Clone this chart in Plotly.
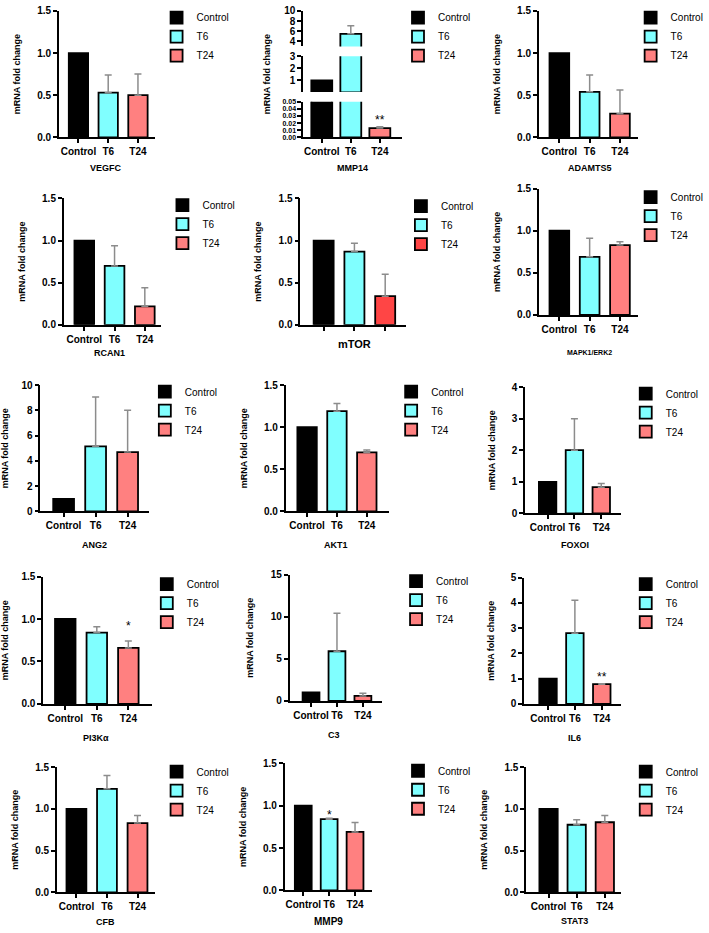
import plotly.graph_objects as go

# ---------------- data ----------------
genes = ["VEGFC", "MMP14", "ADAMTS5", "RCAN1", "mTOR", "MAPK1/ERK2",
         "ANG2", "AKT1", "FOXOI", "PI3Kα", "C3", "IL6", "CFB", "MMP9", "STAT3"]
groups = ["Control", "T6", "T24"]
control_vals = [1.0] * 15
t6_vals = [0.53, 5.5, 0.54, 0.70, 0.87, 0.69, 5.15, 1.19, 2.0, 0.84, 5.9, 2.8, 1.24, 0.84, 0.81]
t6_err = [0.21, 1.6, 0.20, 0.24, 0.10, 0.22, 3.9, 0.09, 1.0, 0.07, 4.5, 1.3, 0.16, 0.01, 0.06]
t24_vals = [0.50, 0.013, 0.28, 0.22, 0.34, 0.83, 4.7, 0.70, 0.83, 0.66, 0.6, 0.78, 0.83, 0.69, 0.84]
t24_err = [0.25, 0.002, 0.28, 0.22, 0.26, 0.04, 3.3, 0.03, 0.12, 0.08, 0.3, 0.02, 0.09, 0.11, 0.08]
y_max = [1.5, 10, 1.5, 1.5, 1.5, 1.5, 10, 1.5, 4, 1.5, 15, 5, 1.5, 1.5, 1.5]
y_dtick = [0.5, 2, 0.5, 0.5, 0.5, 0.5, 2, 0.5, 1, 0.5, 5, 1, 0.5, 0.5, 0.5]
y_fmt = [".1f", "d", ".1f", ".1f", ".1f", ".1f", "d", ".1f", "d", ".1f", "d", "d", ".1f", ".1f", ".1f"]
# significance marks: (gene index, group index, text)
signif = [(1, 2, "**"), (9, 2, "*"), (11, 2, "**"), (13, 1, "*")]
# MMP14 broken axis segments (ranges and tick values)
mmp14_segments = [([3, 10], [4, 6, 8, 10]), ([0.05, 3], [1, 2, 3]),
                  ([0, 0.05], [0, 0.01, 0.02, 0.03, 0.04, 0.05])]
Y_TITLE = "mRNA fold change"

# ---------------- layout (pixel geometry) ----------------
W, H = 709, 933
# x axis start, x axis end, y top, y bottom, x range, legend x, legend y, label x, label y, label size
panels = [
    (52, 150, 5, 133, (-0.66, 2.56), 152, -3, 100, 164, 9),
    (302, 403, 5, 133, (-0.64, 2.76), 399, -3, 352, 164, 9),
    (543, 645, 5, 133, (-0.68, 2.61), 637, -3, 595, 164, 9),
    (57, 157, 195, 323, (-0.68, 2.55), 158, 187, 104, 352, 9),
    (299, 407, 195, 323, (-0.76, 2.67), 402, 188, 355, 342, 11),
    (543, 645, 185, 313, (-0.68, 2.61), 637, 179, 595, 351, 7),
    (33, 144, 384, 512, (-0.73, 2.66), 140, 376, 88, 546, 9),
    (284, 390, 384, 512, (-0.72, 2.75), 392, 376, 336, 546, 9),
    (529, 627, 386, 514, (-0.84, 2.73), 632, 378, 580, 546, 9),
    (36, 147, 578, 707, (-0.70, 2.74), 142, 571, 90, 742, 9),
    (288, 383, 576, 704, (-0.83, 2.75), 397, 568, 334, 738, 9),
    (528, 627, 579, 707, (-0.89, 2.71), 632, 571, 580, 742, 9),
    (50, 150, 771, 898, (-0.64, 2.56), 152, 761, 100, 928, 9),
    (283, 372, 767, 896, (-0.72, 2.64), 399, 760, 328, 927, 10),
    (530, 627, 771, 898, (-0.80, 2.57), 632, 761, 580, 927, 9),
]
mmp14_seg_px = [(5, 41), (51, 87), (97, 133)]
mmp14_title_px = (265, 69)
star_shift = [-2, 6, -2, -6]  # px shift of each significance mark from the error cap

FONT = "Liberation Sans, Arial, sans-serif"
colors = {"Control": "#000000", "T6": "#80FFFF", "T24": "#FF8080"}
mtor_t24_color = "#FF4545"
ERR_COLOR = "#8c8c8c"


def X(px):
    return px / W


def Y(py):
    return 1 - py / H


fig = go.Figure()
layout = dict(width=W, height=H, margin=dict(l=0, r=0, t=0, b=0),
              paper_bgcolor="white", plot_bgcolor="white", barmode="overlay",
              font=dict(family=FONT, color="black"), annotations=[])

axis_common = dict(showgrid=False, zeroline=False, showline=True, linecolor="black",
                   linewidth=1.5, ticks="outside", ticklen=4, tickwidth=1.5,
                   tickcolor="black", fixedrange=True)
tick_font = dict(family=FONT, size=10, weight="bold")
title_font = dict(family=FONT, size=9, weight="bold")

vals_by_group = {"Control": control_vals, "T6": t6_vals, "T24": t24_vals}
err_by_group = {"Control": [0] * 15, "T6": t6_err, "T24": t24_err}


def add_bars(i, xref, yref, show_legend, legend_name, width=0.65, ymin=None):
    for j, g in enumerate(groups):
        v = vals_by_group[g][i]
        if ymin is not None and v <= ymin:
            continue
        c = colors[g]
        if genes[i] == "mTOR" and g == "T24":
            c = mtor_t24_color
        e = err_by_group[g][i]
        fig.add_trace(go.Bar(
            x=[j], y=[v], width=[width], name=g,
            marker=dict(color=c, line=dict(color="black", width=1.8)),
            error_y=dict(type="data", symmetric=False, array=[e], arrayminus=[0],
                         color=ERR_COLOR, thickness=1.5, width=3.5,
                         visible=bool(e > 0)),
            xaxis=xref, yaxis=yref, showlegend=show_legend, legend=legend_name,
            hoverinfo="skip"))


extra_axis = 16
for i, p in enumerate(panels):
    xs, xe, yt, yb, xr, lx, ly, gx, gy, gs = p
    n = i + 1
    xkey = "xaxis" if n == 1 else f"xaxis{n}"
    ykey = "yaxis" if n == 1 else f"yaxis{n}"
    xref = "x" if n == 1 else f"x{n}"
    yref = "y" if n == 1 else f"y{n}"
    legend_name = "legend" if n == 1 else f"legend{n}"
    ticktext = ["" for _ in groups] if genes[i] == "mTOR" else groups

    layout[xkey] = dict(axis_common, domain=[X(xs), X(xe)], range=list(xr),
                        anchor=yref, tickvals=[0, 1, 2], ticktext=ticktext,
                        tickangle=0, tickfont=tick_font)
    if genes[i] == "MMP14":
        # broken axis: three stacked y axes sharing one x axis (bottom = main)
        for s, ((rng, tv), (pt, pb)) in enumerate(zip(mmp14_segments, mmp14_seg_px)):
            if s == 2:
                key, ref = ykey, yref
            else:
                key = f"yaxis{extra_axis}"
                ref = f"y{extra_axis}"
                extra_axis += 1
            layout[key] = dict(axis_common, domain=[Y(pb), Y(pt)], range=rng,
                               tickvals=tv, anchor=xref,
                               tickformat=".2f" if s == 2 else "d",
                               tickfont=dict(tick_font, size=7 if s == 2 else 10))
            add_bars(i, xref, ref, s == 2, legend_name, width=0.72,
                     ymin=None if s == 2 else rng[0])
        layout["annotations"].append(dict(
            text=Y_TITLE, x=X(mmp14_title_px[0]), y=Y(mmp14_title_px[1]),
            xref="paper", yref="paper", textangle=-90, xanchor="center",
            yanchor="middle", showarrow=False, font=title_font))
    else:
        layout[ykey] = dict(axis_common, domain=[Y(yb), Y(yt)], range=[0, y_max[i]],
                            dtick=y_dtick[i], tick0=0, anchor=xref,
                            tickformat=y_fmt[i], tickfont=tick_font,
                            title=dict(text=Y_TITLE, font=title_font))
        add_bars(i, xref, yref, True, legend_name)

    layout[legend_name] = dict(x=X(lx), y=Y(ly), xanchor="left", yanchor="top",
                               font=dict(family=FONT, size=10, color="black"),
                               bgcolor="rgba(0,0,0,0)", itemwidth=30,
                               tracegroupgap=0, traceorder="normal")
    layout["annotations"].append(dict(
        text=f"<b>{genes[i]}</b>", x=X(gx), y=Y(gy), xref="paper", yref="paper",
        xanchor="center", yanchor="middle", showarrow=False,
        font=dict(family=FONT, size=gs, color="black")))

# significance stars
for (gi, grp, txt), sh in zip(signif, star_shift):
    n = gi + 1
    g = groups[grp]
    top = vals_by_group[g][gi] + err_by_group[g][gi]
    layout["annotations"].append(dict(
        text=txt, x=grp, y=top, xref="x" if n == 1 else f"x{n}",
        yref="y" if n == 1 else f"y{n}", xanchor="center", yanchor="bottom",
        showarrow=False, yshift=sh, font=dict(family=FONT, size=12, color="black")))

fig.update_layout(**layout)
post = ("document.body.style.margin='0px';"
        "document.documentElement.style.overflow='hidden';"
        "document.body.style.overflow='hidden';"
        "var gd=document.getElementById('{plot_id}');"
        "gd.style.position='absolute';gd.style.top='0px';gd.style.left='0px';")
fig.write_html("out.html", config={"displayModeBar": False}, post_script=post)
